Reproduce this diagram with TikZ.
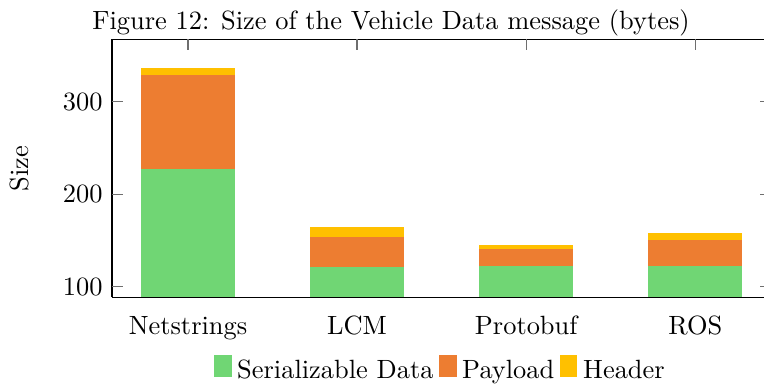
\documentclass[tikz,border=0pt]{standalone}
\usetikzlibrary{positioning}

\definecolor{datagreen}{RGB}{112,214,116}
\definecolor{payorange}{RGB}{237,125,49}
\definecolor{headgold}{RGB}{255,192,0}
\definecolor{tickgray}{RGB}{110,110,110}

\tikzset{
  seg/.style={fill=#1, draw=none},
  axisline/.style={line width=0.45pt, black},
  tickmark/.style={line width=0.4pt, tickgray},
  lbl/.style={inner sep=0pt, font=\normalsize},
  legbox/.style={fill=#1, draw=none}
}

% one stacked bar: centre (pixel x), data / payload / header totals (in bytes)
\newcommand{\stackbar}[4]{%
  \fill[seg=datagreen]  (#1-47,\ybase) rectangle (#1+47,{379.25-0.9255*(#2)});
  \fill[seg=payorange]  (#1-47,{379.25-0.9255*(#2)}) rectangle (#1+47,{379.25-0.9255*(#3)});
  \fill[seg=headgold]   (#1-47,{379.25-0.9255*(#3)}) rectangle (#1+47,{379.25-0.9255*(#4)});
}

\begin{document}
\begin{tikzpicture}[x=0.3788pt, y=-0.3788pt]
  \useasboundingbox (0,0) rectangle (764,383);
  \clip (0,0) rectangle (764,383);
  \def\ybase{297.3}

  % title
  \node[lbl, anchor=base] (title) at (391,29.3) {Figure 12: Size of the Vehicle Data message (bytes)};

  % stacked bars (cumulative heights)
  \stackbar{188}{227}{329}{336}
  \stackbar{357}{121}{154}{165}
  \stackbar{526.2}{122}{141}{145}
  \stackbar{695.3}{122}{150}{158}

  % axis frame
  \coordinate (bl) at (112,297.3);
  \coordinate (tr) at (771,39.3);
  \draw[axisline] (bl) |- (tr) |- (bl);

  % y ticks, left and right, pointing inward
  \foreach \v in {100,200,300}{
    \pgfmathsetmacro{\py}{379.25-0.9255*\v}
    \draw[tickmark] (112,\py) -- (123,\py);
    \draw[tickmark] (760,\py) -- (771,\py);
    \node[lbl, anchor=east] (ylab\v) at (103,\py) {\v};
  }

  % x ticks on the top edge
  \foreach \cx in {188,357,526.2,695.3}{
    \draw[tickmark] (\cx,39.3) -- (\cx,50.3);
  }

  % category labels
  \node[lbl, anchor=base] (cat1) at (188,334) {Netstrings};
  \node[lbl, anchor=base] (cat2) at (357,334) {LCM};
  \node[lbl, anchor=base] (cat3) at (526.2,334) {Protobuf};
  \node[lbl, anchor=base] (cat4) at (695.3,334) {ROS};

  % y axis label
  \node[lbl, anchor=base, rotate=90] (ylabel) at (28.3,168.3) {Size};

  % legend
  \fill[legbox=datagreen] (214,355) rectangle (231.7,377.3);
  \node[lbl, anchor=base west] (leg1) at (236.7,378) {Serializable Data};
  \fill[legbox=payorange] (439.3,355) rectangle (456.7,377.3);
  \node[lbl, anchor=base west] (leg2) at (461.7,378) {Payload};
  \fill[legbox=headgold] (560,355) rectangle (576.7,377.3);
  \node[lbl, anchor=base west] (leg3) at (582.7,378) {Header};
\end{tikzpicture}
\end{document}
